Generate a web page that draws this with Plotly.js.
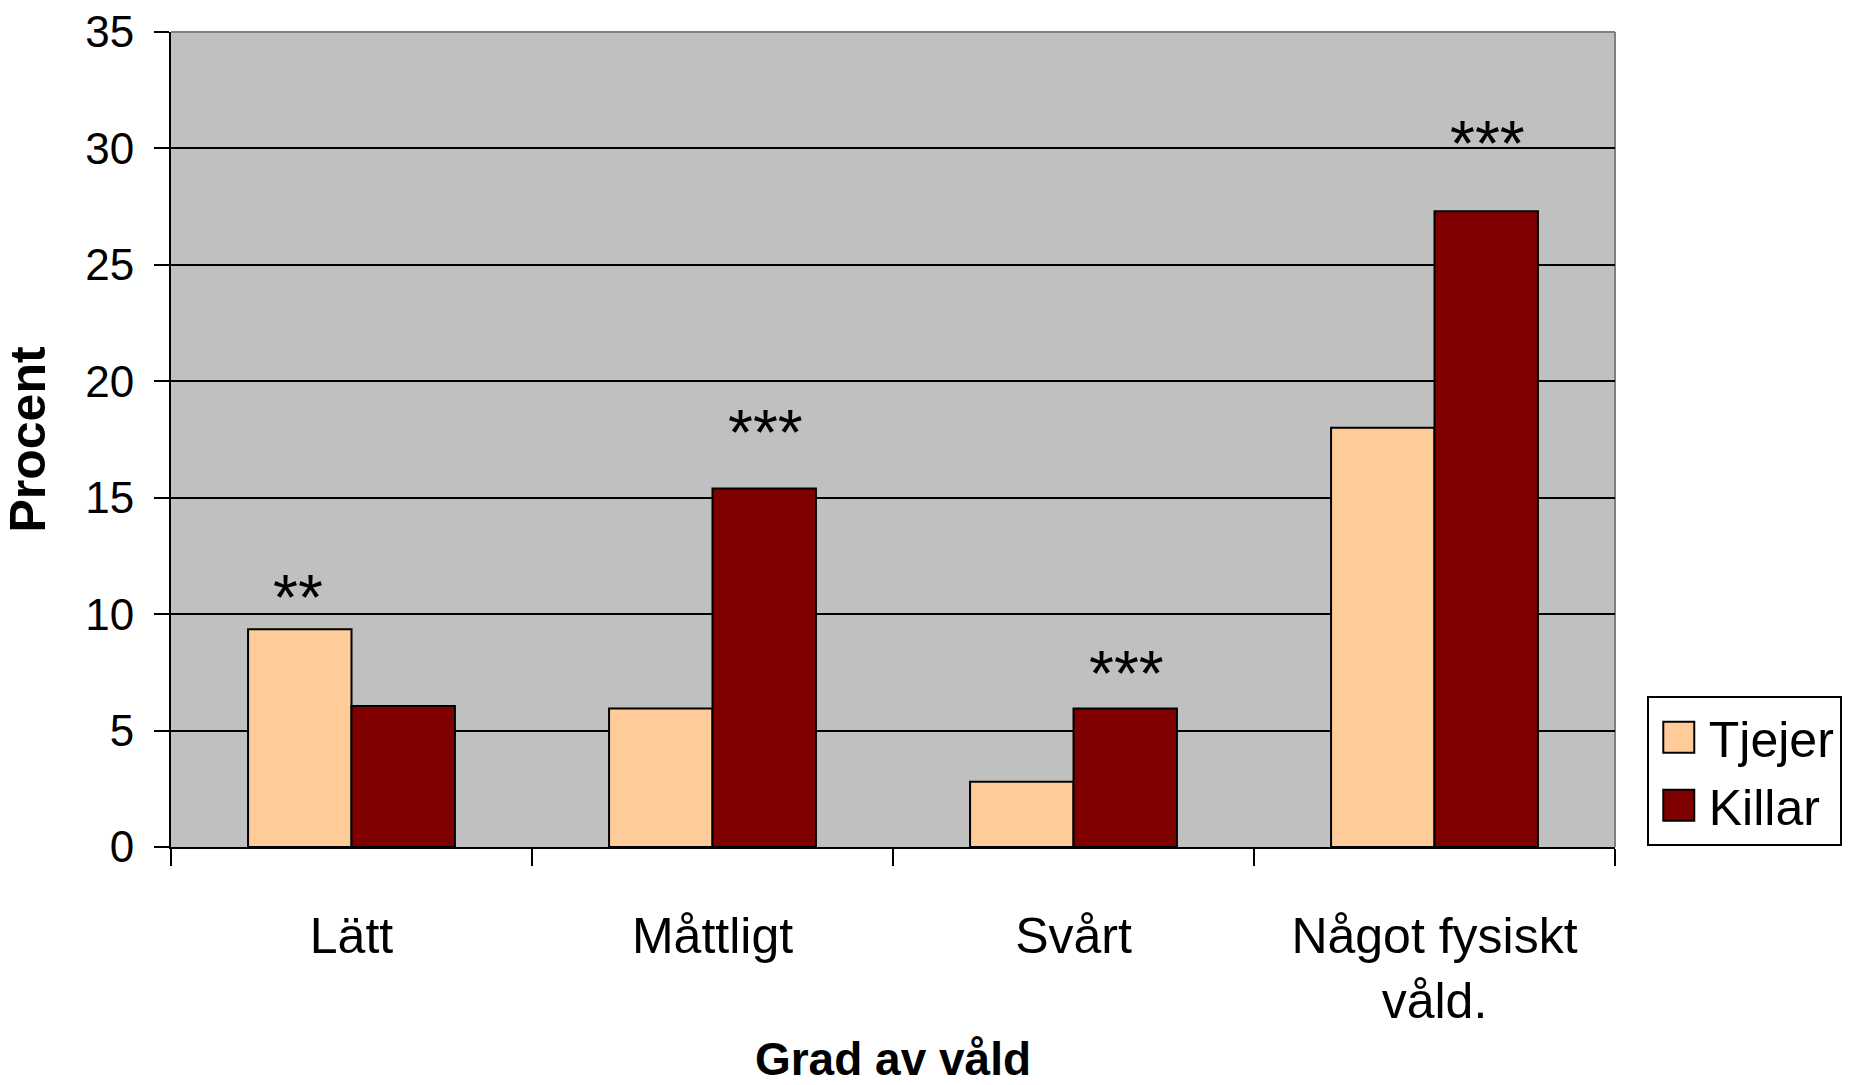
<!DOCTYPE html>
<html>
<head>
<meta charset="utf-8">
<script src="https://cdn.plot.ly/plotly-3.0.1.min.js"></script>
<style>
  html, body { margin: 0; padding: 0; background: #ffffff; }
  #chart { width: 1852px; height: 1085px; }
</style>
</head>
<body>
<div id="chart"></div>
<script>
// ---- Data ----
const categories = ['Lätt', 'Måttligt', 'Svårt', 'Något fysiskt<br>våld.'];
const tjejer = [9.35, 5.95, 2.8, 18.0];
const killar = [6.05, 15.4, 5.95, 27.3];
const seriesNames = ['Tjejer', 'Killar'];
const sigLabels = ['**', '***', '***', '***'];
const sigSeries = ['Tjejer', 'Killar', 'Killar', 'Killar'];
const sigY = [11.2, 18.3, 7.95, 30.7];
const yTickVals = [0, 5, 10, 15, 20, 25, 30, 35];
const yTitle = 'Procent';
const xTitle = 'Grad av våld';

const FONT = '"Liberation Sans", Arial, sans-serif';

const traces = [
  {
    type: 'bar', name: seriesNames[0], x: categories, y: tjejer,
    marker: { color: '#FFCC99', line: { color: '#000000', width: 2 } },
    hoverinfo: 'x+y+name'
  },
  {
    type: 'bar', name: seriesNames[1], x: categories, y: killar,
    marker: { color: '#800000', line: { color: '#000000', width: 2 } },
    hoverinfo: 'x+y+name'
  }
];

const offset = 0.147;
const annotations = sigLabels.map((lab, i) => ({
  x: i + (sigSeries[i] === seriesNames[0] ? -offset : offset),
  y: sigY[i],
  xref: 'x', yref: 'y',
  text: lab,
  showarrow: false,
  xanchor: 'center', yanchor: 'middle',
  yshift: -12,
  font: { family: FONT, size: 64, color: '#000000' }
}));

const layout = {
  width: 1852, height: 1085,
  paper_bgcolor: '#ffffff',
  plot_bgcolor: '#C0C0C0',
  margin: { l: 171, r: 237, t: 32, b: 238, autoexpand: false },
  barmode: 'group',
  bargap: 0.427,
  bargroupgap: 0,
  showlegend: true,
  legend: {
    x: 1.022, y: 0.185, xanchor: 'left', yanchor: 'top',
    bgcolor: '#ffffff', bordercolor: '#000000', borderwidth: 2,
    font: { family: FONT, size: 50, color: '#000000' },
    itemwidth: 50,
    entrywidth: 240
  },
  xaxis: {
    type: 'category',
    tickson: 'boundaries',
    ticks: 'outside', ticklen: 17, tickwidth: 2, tickcolor: '#000000',
    showline: true, linecolor: '#000000', linewidth: 2,
    showgrid: false, zeroline: false,
    tickfont: { family: FONT, size: 50, color: '#000000' },
    ticklabelstandoff: 44,
    title: { text: '<b>' + xTitle + '</b>', font: { family: FONT, size: 46, color: '#000000' }, standoff: 22 }
  },
  yaxis: {
    range: [0, 35],
    tickvals: yTickVals,
    ticks: 'outside', ticklen: 15, tickwidth: 2, tickcolor: '#000000',
    showline: true, linecolor: '#000000', linewidth: 2,
    showgrid: true, gridcolor: '#000000', gridwidth: 2,
    zeroline: false,
    tickfont: { family: FONT, size: 44, color: '#000000' },
    ticklabelstandoff: 11,
    title: { text: '<b>' + yTitle + '</b>', font: { family: FONT, size: 50, color: '#000000' }, standoff: 26 }
  },
  shapes: [
    { type: 'line', xref: 'paper', yref: 'paper', x0: 0, x1: 1, y0: 1, y1: 1,
      line: { color: '#808080', width: 2 }, layer: 'below' },
    { type: 'line', xref: 'paper', yref: 'paper', x0: 1, x1: 1, y0: 0, y1: 1,
      line: { color: '#808080', width: 2 }, layer: 'below' }
  ],
  annotations: annotations
};

Plotly.newPlot('chart', traces, layout, { displayModeBar: false, staticPlot: true }).then(() => {
  // enlarge legend swatches to match the reference
  document.querySelectorAll('#chart .legend .legendpoints path').forEach(p => {
    p.setAttribute('d', 'M15.5,15.5H-15.5V-15.5H15.5Z');
  });
});
</script>
</body>
</html>
